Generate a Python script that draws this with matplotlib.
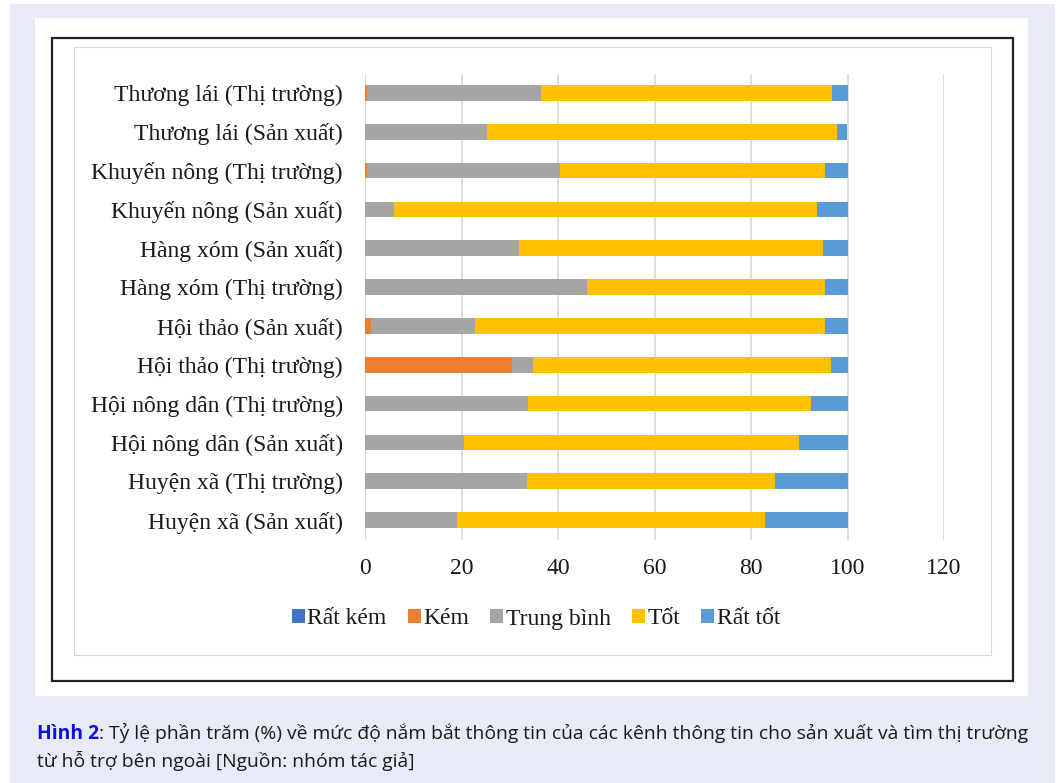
import matplotlib.pyplot as plt
from matplotlib.patches import Rectangle
import numpy as np

# kênh thông tin, từ dưới lên trên như trong biểu đồ
kenh = ['Huyện xã (Sản xuất)', 'Huyện xã (Thị trường)',
        'Hội nông dân (Sản xuất)', 'Hội nông dân (Thị trường)',
        'Hội thảo (Thị trường)', 'Hội thảo (Sản xuất)',
        'Hàng xóm (Thị trường)', 'Hàng xóm (Sản xuất)',
        'Khuyến nông (Sản xuất)', 'Khuyến nông (Thị trường)',
        'Thương lái (Sản xuất)', 'Thương lái (Thị trường)']

# tỷ lệ % theo mức độ (ước lượng từ hình)
rat_kem    = [0, 0, 0, 0, 0, 0, 0, 0, 0, 0, 0, 0]
kem        = [0, 0, 0, 0, 30.5, 1.2, 0, 0, 0, 0.5, 0, 0.5]
trung_binh = [19.0, 33.5, 20.5, 33.8, 4.4, 21.5, 46.1, 31.9, 6.0, 40.0, 25.3, 35.9]
tot        = [63.8, 51.5, 69.4, 58.6, 61.6, 72.7, 49.3, 63.1, 87.6, 54.9, 72.6, 60.4]
rat_tot    = [17.2, 15.0, 10.1, 7.6, 3.5, 4.6, 4.6, 5.0, 6.4, 4.6, 2.1, 3.2]

muc_do = ['Rất kém', 'Kém', 'Trung bình', 'Tốt', 'Rất tốt']
mau = ['#4472C4', '#ED7D31', '#A5A5A5', '#FFC000', '#5B9BD5']
xticks = [0, 20, 40, 60, 80, 100, 120]

W, H = 1060, 783
fig = plt.figure(figsize=(W/100, H/100), dpi=100)
fig.patch.set_facecolor('white')

def khung(x0, y0, x1, y1, **kw):
    # hình chữ nhật theo toạ độ pixel (gốc trên-trái)
    r = Rectangle((x0/W, 1-y1/H), (x1-x0)/W, (y1-y0)/H, transform=fig.transFigure, **kw)
    fig.patches.append(r)

khung(10, 4, 1055, 783, facecolor='#e8ebf6', edgecolor='none', zorder=0)
khung(35, 18, 1028, 696, facecolor='white', edgecolor='none', zorder=1)
khung(52, 38, 1013, 681, facecolor='white', edgecolor='#222222', lw=1.6, zorder=2)
khung(74, 47, 991, 655, facecolor='white', edgecolor='#d9d9d9', lw=0.8, zorder=3)

ax = fig.add_axes([365/W, 1-539.5/H, (944-365)/W, (539.5-73.5)/H], zorder=5)
ax.set_facecolor('none')

y = np.arange(len(kenh))
trai = np.zeros(len(kenh))
for ten, gt, c in zip(muc_do, [rat_kem, kem, trung_binh, tot, rat_tot], mau):
    ax.barh(y, gt, left=trai, height=0.4, color=c, label=ten, zorder=3)
    trai += np.array(gt)

ax.set_xlim(0, 120)
ax.set_ylim(-0.5, len(kenh)-0.5)
ax.set_xticks(xticks)
ax.set_yticks(y)
ax.set_yticklabels(kenh)
ax.grid(axis='x', color='#d9d9d9', lw=1.2, zorder=0)
for s in ['top', 'right', 'bottom']:
    ax.spines[s].set_visible(False)
ax.spines['left'].set_color('#d9d9d9')
ax.tick_params(axis='both', length=0, labelsize=17, colors='#1a1a1a')
ax.tick_params(axis='y', pad=16)
ax.tick_params(axis='x', pad=13)
for t in ax.get_xticklabels() + ax.get_yticklabels():
    t.set_fontfamily('Liberation Serif')

leg = fig.legend(loc='center', bbox_to_anchor=(536/W, 1-619/H), ncol=5, frameon=False,
                 prop={'family': 'Liberation Serif', 'size': 17},
                 handlelength=0.55, handleheight=0.55, handletextpad=0.1, columnspacing=0.9)
for t in leg.get_texts():
    t.set_color('#1a1a1a')

# chú thích hình: "Hình 2" đậm màu xanh, phần còn lại nối tiếp ngay sau
fs_cap = 13.9
t1 = fig.text(37/W, 1-739/H, 'Hình 2', fontsize=fs_cap, fontweight='bold', color='#1010e0',
              family='Open Sans', va='baseline', zorder=6)
fig.canvas.draw()
bb = t1.get_window_extent()
fig.text(bb.x1/W, 1-739/H,
         ': Tỷ lệ phần trăm (%) về mức độ nắm bắt thông tin của các kênh thông tin cho sản xuất và tìm thị trường',
         fontsize=fs_cap, color='#1a1a1a', family='Open Sans', va='baseline', zorder=6)
fig.text(37/W, 1-767/H, 'từ hỗ trợ bên ngoài [Nguồn: nhóm tác giả]',
         fontsize=fs_cap, color='#1a1a1a', family='Open Sans', va='baseline', zorder=6)

fig.savefig('out.png', dpi=100)
